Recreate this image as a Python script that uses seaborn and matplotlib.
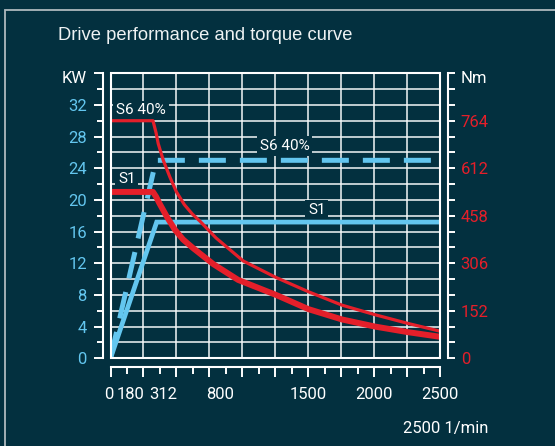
import matplotlib
matplotlib.use("Agg")
import matplotlib.pyplot as plt
import matplotlib.transforms as mtrans
from matplotlib.patches import Rectangle
import numpy as np
import seaborn as sns

BG = "#03303f"
BLUE = "#63c6ef"
RED = "#e41f2a"
WHITE = "#ffffff"
GRID = "#f4f7f8"

# ---------------- data ----------------
rpm_s1_power = [0, 350, 2500]
kw_s1_power = [0, 17.2, 17.2]
rpm_s6_power = [0, 345, 2500]
kw_s6_power = [0, 25, 25]

rpm_s1_torque = [0, 322, 345, 370, 426, 489, 550, 627, 779, 968, 1254, 1501, 1754, 2006, 2256, 2500]
nm_s1_torque = [535, 535, 520, 499, 456, 413, 382, 354, 303, 252, 204, 158, 125, 102, 84, 69]
rpm_s6_torque = [0, 322, 345, 362, 400, 450, 500, 560, 620, 678, 800, 1006, 1254, 1501, 1754, 2006, 2256, 2500]
nm_s6_torque = [764, 764, 726, 690, 637, 583, 535, 494, 464, 441, 387, 313, 260, 214, 171, 140, 112, 87]

x_labels = [0, 180, 312, 800, 1500, 2000, 2500]
x_label_shift_px = [-2, -4, 12, 4.5, 0, 0, 0]
kw_labels = [0, 4, 8, 12, 16, 20, 24, 28, 32]
nm_labels = [0, 152, 306, 458, 612, 764]
NM_PER_KW = 764 / 30

curve_labels = ["S6 40%", "S1", "S6 40%", "S1"]
curve_label_rpm = [42, 57, 1133, 1498]
curve_label_kw = [31.3, 22.6, 26.8, 18.7]

title = "Drive performance and torque curve"
x_unit = "2500 1/min"

# ---------------- style ----------------
sns.set_theme(style="dark", rc={"axes.facecolor": BG, "figure.facecolor": BG})
plt.rcParams["font.family"] = ["Roboto", "DejaVu Sans"]
TICK_FS = 12

fig = plt.figure(figsize=(5.55, 4.46), dpi=100, facecolor=BG)
ax = fig.add_axes([110.5 / 555, 87.7 / 446, 329.8 / 555, 285.1 / 446])
ax.set_facecolor(BG)
ax2 = ax.twinx()

# blue power lines
sns.lineplot(x=rpm_s1_power, y=kw_s1_power, ax=ax, color=BLUE, lw=3.4,
             solid_joinstyle="miter", zorder=3)
sns.lineplot(x=rpm_s6_power, y=kw_s6_power, ax=ax, color=BLUE, lw=3.6, zorder=3)
ax.lines[-1].set_dashes([5.4, 2.8])
ax.lines[-1].set_dash_capstyle("butt")

# red torque lines
sns.lineplot(x=rpm_s1_torque, y=nm_s1_torque, ax=ax2, color=RED, lw=4.3, zorder=3)
sns.lineplot(x=rpm_s6_torque, y=nm_s6_torque, ax=ax2, color=RED, lw=2.3, zorder=3)

ax.set_xlim(0, 2500)
ax.set_ylim(0, 36)
ax2.set_ylim(0, 36 * NM_PER_KW)
ax.set_xlabel("")
ax.set_ylabel("")
ax2.set_ylabel("")

# grid
ax.set_axisbelow(True)
ax.set_xticks(np.arange(0, 2501, 250))
ax.set_xticks(np.arange(0, 2501, 125), minor=True)
ax.set_yticks(kw_labels + [36])
ax.set_yticks(np.arange(2, 36, 4), minor=True)
ax.grid(which="major", axis="x", color=GRID, lw=1.1)
ax.grid(which="both", axis="y", color=GRID, lw=1.1)
ax2.grid(False)

# spines
for s in ["top", "right"]:
    ax.spines[s].set_visible(False)
for s in ["top", "left", "bottom"]:
    ax2.spines[s].set_visible(False)
ax.spines["left"].set_position(("outward", 5.6))
ax.spines["bottom"].set_position(("outward", 6.0))
ax2.spines["right"].set_position(("outward", 5.8))
for sp in [ax.spines["left"], ax.spines["bottom"], ax2.spines["right"]]:
    sp.set_visible(True)
    sp.set_color(WHITE)
    sp.set_linewidth(1.5)

# ticks
ax.set_xticklabels([])
ax.tick_params(axis="x", which="major", direction="out", length=7.2, width=1.4,
               color=WHITE, bottom=True)
ax.tick_params(axis="x", which="minor", direction="out", length=5, width=1.4,
               color=WHITE, bottom=True)
ax.set_yticklabels([str(v) for v in kw_labels] + [""])
ax.tick_params(axis="y", which="major", direction="out", length=6.5, width=1.4,
               color=WHITE, labelcolor=BLUE, labelsize=TICK_FS, pad=5, left=True)
ax.tick_params(axis="y", which="minor", direction="out", length=4.3, width=1.4,
               color=WHITE, left=True)

ax2.set_yticks(nm_labels + [36 * NM_PER_KW])
ax2.set_yticklabels([str(v) for v in nm_labels] + [""])
ax2.set_yticks(np.arange(0, 37, 2) * NM_PER_KW, minor=True)
ax2.tick_params(axis="y", which="both", direction="out", length=5, width=1.4,
                color=WHITE, labelcolor=RED, labelsize=TICK_FS, pad=3.9, right=True)

# x tick labels (placed as text, slightly spread as in the original)
for v, dx in zip(x_labels, x_label_shift_px):
    tr = mtrans.blended_transform_factory(ax.transData, ax.transAxes) + \
        mtrans.ScaledTranslation(dx / 100, -36 / 100, fig.dpi_scale_trans)
    ax.text(v, 0, str(v), transform=tr, ha="center", va="center",
            color=WHITE, fontsize=TICK_FS, clip_on=False)

# axis unit labels
tr_l = ax.transAxes + mtrans.ScaledTranslation(-23.5 / 100, -5 / 100, fig.dpi_scale_trans)
ax.text(0, 1, "KW", transform=tr_l, ha="right", va="center", color=WHITE,
        fontsize=TICK_FS, clip_on=False)
tr_r = ax.transAxes + mtrans.ScaledTranslation(20.5 / 100, -5 / 100, fig.dpi_scale_trans)
ax.text(1, 1, "Nm", transform=tr_r, ha="left", va="center", color=WHITE,
        fontsize=TICK_FS, clip_on=False)

# curve labels
for t, xr, yk in zip(curve_labels, curve_label_rpm, curve_label_kw):
    ax.text(xr, yk, t, ha="left", va="center", color=WHITE, fontsize=11, zorder=2,
            bbox=dict(boxstyle="square,pad=0.18", fc=BG, ec="none"))

# plot frame
ax2.add_patch(Rectangle((0, 0), 1, 1, transform=ax2.transAxes, fill=False,
                        ec=WHITE, lw=1.5, zorder=10, clip_on=False))

# title, unit, outer border
fig.text(58.3 / 555, 1 - 36 / 446, title, ha="left", va="center", color="#eef2f3",
         fontsize=13.2, family=["Liberation Sans", "DejaVu Sans"])
fig.text(488 / 555, 1 - 428 / 446, x_unit, ha="right", va="center", color=WHITE,
         fontsize=TICK_FS)
fig.patches.append(Rectangle((5 / 555, -0.05), 1.2, 0.9776 + 0.05,
                             transform=fig.transFigure, fill=False, ec="#aeb9be",
                             lw=1.3, figure=fig))

fig.savefig("out.png", dpi=100, facecolor=BG)
